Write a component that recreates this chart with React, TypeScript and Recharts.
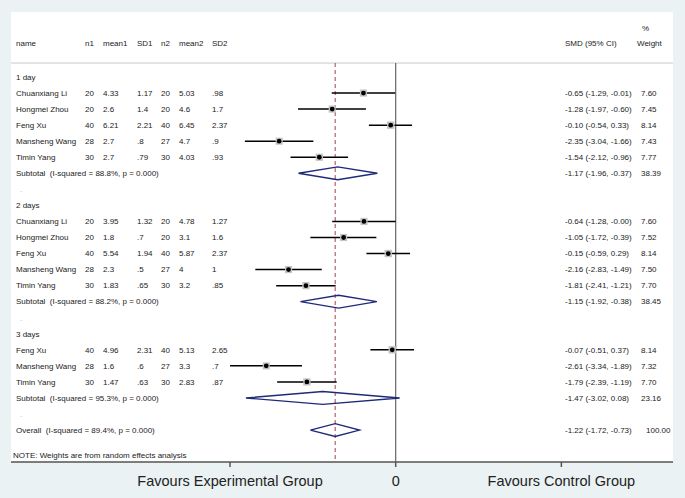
import React from "react";
import { ScatterChart, Scatter, XAxis, YAxis, ReferenceLine } from "recharts";

// study-level rows (in display order)
const groupLabels = ["1 day", "2 days", "3 days"];
const studyNames = [
  "Chuanxiang Li", "Hongmei Zhou", "Feng Xu", "Mansheng Wang", "Timin Yang",
  "Chuanxiang Li", "Hongmei Zhou", "Feng Xu", "Mansheng Wang", "Timin Yang",
  "Feng Xu", "Mansheng Wang", "Timin Yang",
];
const studyGroup = [0, 0, 0, 0, 0, 1, 1, 1, 1, 1, 2, 2, 2];
const n1 = [20, 20, 40, 28, 30, 20, 20, 40, 28, 30, 40, 28, 30];
const mean1 = [4.33, 2.6, 6.21, 2.7, 2.7, 3.95, 1.8, 5.54, 2.3, 1.83, 4.96, 1.6, 1.47];
const sd1 = [1.17, 1.4, 2.21, 0.8, 0.79, 1.32, 0.7, 1.94, 0.5, 0.65, 2.31, 0.6, 0.63];
const n2 = [20, 20, 40, 27, 30, 20, 20, 40, 27, 30, 40, 27, 30];
const mean2 = [5.03, 4.6, 6.45, 4.7, 4.03, 4.78, 3.1, 5.87, 4, 3.2, 5.13, 3.3, 2.83];
const sd2 = [0.98, 1.7, 2.37, 0.9, 0.93, 1.27, 1.6, 2.37, 1, 0.85, 2.65, 0.7, 0.87];
const smd = [-0.65, -1.28, -0.1, -2.35, -1.54, -0.64, -1.05, -0.15, -2.16, -1.81, -0.07, -2.61, -1.79];
const ciLow = [-1.29, -1.97, -0.54, -3.04, -2.12, -1.28, -1.72, -0.59, -2.83, -2.41, -0.51, -3.34, -2.39];
const ciHigh = [-0.01, -0.6, 0.33, -1.66, -0.96, -0.0, -0.39, 0.29, -1.49, -1.21, 0.37, -1.89, -1.19];
const weight = [7.6, 7.45, 8.14, 7.43, 7.77, 7.6, 7.52, 8.14, 7.5, 7.7, 8.14, 7.32, 7.7];

// pooled estimates
const subI2 = [88.8, 88.2, 95.3];
const subSmd = [-1.17, -1.15, -1.47];
const subLow = [-1.96, -1.92, -3.02];
const subHigh = [-0.37, -0.38, 0.08];
const subWeight = [38.39, 38.45, 23.16];
const overall = { smd: -1.22, low: -1.72, high: -0.73, i2: 89.4, weight: 100 };

const FONT = "'Liberation Sans', Arial, sans-serif";
const TXT = "#222";
const NAVY = "#1f2a78";

// stata style: ".98" instead of "0.98"
const fmtRaw = (v: number) => String(v).replace(/^0\./, ".");
const fmt2 = (v: number) => (v < 0 || Object.is(v, -0) ? "-" : "") + Math.abs(v).toFixed(2);
const ciText = (e: number, lo: number, hi: number) => `${fmt2(e)} (${fmt2(lo)}, ${fmt2(hi)})`;

type RowItem = { row: number; kind: string; index?: number };
const rows: RowItem[] = [];
let r = 0;
groupLabels.forEach((_, gi) => {
  rows.push({ row: r++, kind: "group", index: gi });
  studyGroup.forEach((g, si) => {
    if (g === gi) rows.push({ row: r++, kind: "study", index: si });
  });
  rows.push({ row: r++, kind: "subtotal", index: gi });
  rows.push({ row: r++, kind: "blank" });
});
rows.push({ row: r++, kind: "overall" });
rows.push({ row: r + 0.55, kind: "note" });
rows.push({ row: -2.12, kind: "header" });
rows.push({ row: -3.05, kind: "pct" });

const textPoints = rows.map((it) => ({ x: 0, y: it.row, kind: it.kind, index: it.index }));

const studyPoints = rows
  .filter((it) => it.kind === "study")
  .map((it) => ({ x: smd[it.index!], y: it.row, w: weight[it.index!], lo: ciLow[it.index!], hi: ciHigh[it.index!] }));

const H = 0.4;
const diamond = (e: number, lo: number, hi: number, y: number) => [
  { x: lo, y },
  { x: e, y: y - H },
  { x: hi, y },
  { x: e, y: y + H },
  { x: lo, y },
];
const diamonds = [
  ...rows.filter((it) => it.kind === "subtotal").map((it) => diamond(subSmd[it.index!], subLow[it.index!], subHigh[it.index!], it.row)),
  ...rows.filter((it) => it.kind === "overall").map((it) => diamond(overall.smd, overall.low, overall.high, it.row)),
];

const axisMax = Math.max(...ciLow.map(Math.abs), ...ciHigh.map(Math.abs));
const xTicks = [-axisMax, 0, axisMax];
const xLabels = ["Favours Experimental Group", "0", "Favours Control Group"];

const topRow = -0.87;
const bottomRow = 23.99;

const COLS = { name: 16, n1: 85, mean1: 103, sd1: 137, n2: 161, mean2: 179, sd2: 212, ci: 565, w: 641 };

// draws the table text of one row at the row's y position
const RowText = (props: any) => {
  const { cy, payload } = props;
  const y = cy;
  const it = payload;
  const t = (x: number, s: string, extra: any = {}) => (
    <text x={x} y={y} dy="0.35em" fontSize={8} fontFamily={FONT} fill={TXT} style={{ whiteSpace: "pre" }} {...extra}>
      {s}
    </text>
  );
  if (it.kind === "header")
    return (
      <g>
        {t(COLS.name, "name")}
        {t(COLS.n1, "n1")}
        {t(COLS.mean1, "mean1")}
        {t(COLS.sd1, "SD1")}
        {t(COLS.n2, "n2")}
        {t(COLS.mean2, "mean2")}
        {t(COLS.sd2, "SD2")}
        {t(COLS.ci, "SMD (95% CI)")}
        {t(COLS.w - 4, "Weight")}
      </g>
    );
  if (it.kind === "pct") return <g>{t(COLS.w + 1, "%")}</g>;
  if (it.kind === "group") return <g>{t(COLS.name, groupLabels[it.index])}</g>;
  if (it.kind === "blank") return <g>{t(COLS.name + 4, ".", { fill: "#aaa" })}</g>;
  if (it.kind === "note") return <g>{t(COLS.name - 3, "NOTE: Weights are from random effects analysis")}</g>;
  if (it.kind === "subtotal") {
    const i = it.index;
    return (
      <g>
        {t(COLS.name, `Subtotal  (I-squared = ${subI2[i].toFixed(1)}%, p = 0.000)`)}
        {t(COLS.ci, ciText(subSmd[i], subLow[i], subHigh[i]))}
        {t(COLS.w, subWeight[i].toFixed(2))}
      </g>
    );
  }
  if (it.kind === "overall")
    return (
      <g>
        {t(COLS.name, `Overall  (I-squared = ${overall.i2.toFixed(1)}%, p = 0.000)`)}
        {t(COLS.ci, ciText(overall.smd, overall.low, overall.high))}
        {t(COLS.w + 5, overall.weight.toFixed(2))}
      </g>
    );
  const i = it.index;
  return (
    <g>
      {t(COLS.name, studyNames[i])}
      {t(COLS.n1, String(n1[i]))}
      {t(COLS.mean1, fmtRaw(mean1[i]))}
      {t(COLS.sd1, fmtRaw(sd1[i]))}
      {t(COLS.n2, String(n2[i]))}
      {t(COLS.mean2, fmtRaw(mean2[i]))}
      {t(COLS.sd2, fmtRaw(sd2[i]))}
      {t(COLS.ci, ciText(smd[i], ciLow[i], ciHigh[i]))}
      {t(COLS.w, weight[i].toFixed(2))}
    </g>
  );
};

const XTick = (props: any) => {
  const { x, y, payload } = props;
  const k = xTicks.findIndex((v) => Math.abs(v - payload.value) < 1e-6);
  return (
    <text x={x} y={y + 17} textAnchor="middle" fontSize={14.5} fontFamily={FONT} fill={TXT}>
      {k >= 0 ? xLabels[k] : ""}
    </text>
  );
};

const StudyMarker = (props: any) => {
  const { cx, cy, payload } = props;
  const s = Math.sqrt(payload.w) * 2.6;
  return (
    <g>
      <rect x={cx - s / 2} y={cy - s / 2} width={s} height={s} fill="#c4c4c4" />
      <circle cx={cx} cy={cy} r={2.4} fill="#000" />
    </g>
  );
};

export default function App() {
  return (
    <div style={{ position: "absolute", left: 0, top: 0, width: 685, height: 498, background: "#eaf2f3" }}>
      <div style={{ position: "absolute", left: 11, top: 12, width: 662, height: 450, background: "#fff" }} />
      <div style={{ position: "absolute", left: 0, top: 0 }}>
        <ScatterChart width={685} height={498} margin={{ top: 12, right: 12, left: 11, bottom: 0 }}>
          <XAxis
            type="number"
            dataKey="x"
            domain={[-7.756, 5.591]}
            allowDataOverflow
            ticks={xTicks}
            interval={0}
            tick={<XTick />}
            tickSize={5}
            height={36}
            stroke="#555"
            strokeWidth={1.5}
          />
          <YAxis
            type="number"
            dataKey="y"
            domain={[-4.05, bottomRow]}
            reversed
            allowDataOverflow
            hide
          />
          <ReferenceLine y={topRow} stroke="#c8c8c8" strokeWidth={1} />
          <ReferenceLine
            segment={[{ x: 0, y: topRow }, { x: 0, y: bottomRow }]}
            stroke="#666"
            strokeWidth={1.2}
          />
          <ReferenceLine
            segment={[{ x: overall.smd, y: topRow }, { x: overall.smd, y: bottomRow }]}
            stroke="#a5404c"
            strokeWidth={1}
            strokeDasharray="4 3"
          />
          {studyPoints.map((p, i) => (
            <ReferenceLine
              key={"ci" + i}
              segment={[{ x: p.lo, y: p.y }, { x: p.hi, y: p.y }]}
              stroke="#000"
              strokeWidth={1.5}
            />
          ))}
          {diamonds.map((d, i) => (
            <Scatter
              key={"dm" + i}
              data={d}
              line={{ stroke: NAVY, strokeWidth: 1.4 }}
              lineJointType="linear"
              shape={() => <g />}
              isAnimationActive={false}
            />
          ))}
          <Scatter data={studyPoints} shape={<StudyMarker />} isAnimationActive={false} />
          <Scatter data={textPoints} shape={<RowText />} isAnimationActive={false} />
        </ScatterChart>
      </div>
    </div>
  );
}
